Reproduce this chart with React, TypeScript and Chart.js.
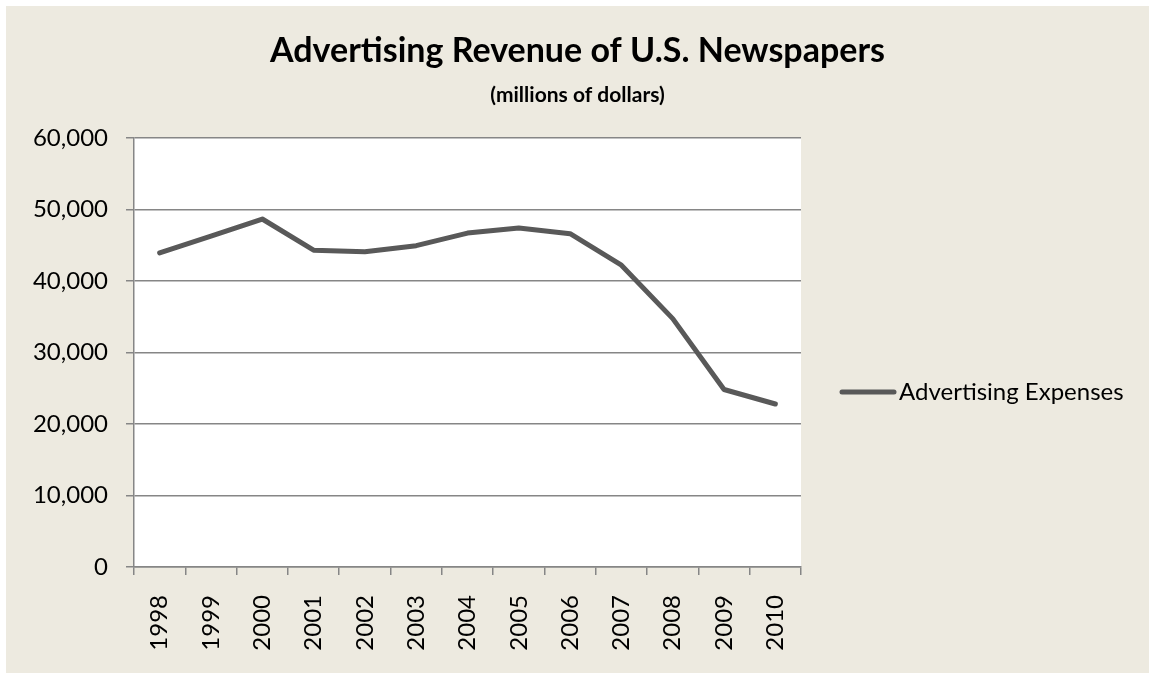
import React, { useEffect, useRef } from "react";
import { Chart, registerables } from "chart.js";

Chart.register(...registerables);

const years = ["1998", "1999", "2000", "2001", "2002", "2003", "2004", "2005", "2006", "2007", "2008", "2009", "2010"];
const adRevenue = [43925, 46289, 48670, 44305, 44102, 44939, 46703, 47408, 46611, 42209, 34740, 24821, 22795];
const seriesLabel = "Advertising Expenses";
const titleText = "Advertising Revenue of U.S. Newspapers";
const subtitleText = "(millions of dollars)";

const FONT = "Lato, 'Open Sans', sans-serif";
const BG = "#EDEAE0";
const LINE = "#595959";
const GRID = "#868686";

const bgPlugin = {
  id: "bgPlugin",
  beforeDraw(chart: any) {
    const { ctx, width, height, chartArea } = chart;
    ctx.save();
    ctx.fillStyle = BG;
    ctx.fillRect(0, 0, width, height);
    ctx.fillStyle = "#FFFFFF";
    ctx.fillRect(chartArea.left, chartArea.top, chartArea.right - chartArea.left, chartArea.bottom - chartArea.top);
    ctx.restore();
  },
};

const legendPlugin = {
  id: "sideLegend",
  afterDraw(chart: any) {
    const { ctx } = chart;
    const ds = chart.data.datasets[0];
    const y = 386;
    ctx.save();
    ctx.strokeStyle = ds.borderColor;
    ctx.lineWidth = 5;
    ctx.lineCap = "round";
    ctx.beginPath();
    ctx.moveTo(836, y);
    ctx.lineTo(888, y);
    ctx.stroke();
    ctx.fillStyle = "#000000";
    ctx.font = `24px ${FONT}`;
    ctx.textAlign = "left";
    ctx.textBaseline = "middle";
    ctx.fillText(ds.label, 893, y);
    ctx.restore();
  },
};

export default function App() {
  const ref = useRef<HTMLCanvasElement>(null);
  useEffect(() => {
    document.body.style.margin = "0";
    const chart = new Chart(ref.current!, {
      type: "line",
      data: {
        labels: years,
        datasets: [
          {
            label: seriesLabel,
            data: adRevenue,
            borderColor: LINE,
            backgroundColor: LINE,
            borderWidth: 5,
            pointRadius: 0,
            tension: 0,
            borderCapStyle: "round",
            borderJoinStyle: "round",
            yAxisID: "y",
          },
        ],
      },
      plugins: [bgPlugin, legendPlugin],
      options: {
        animation: false,
        responsive: true,
        maintainAspectRatio: false,
        layout: { padding: 0 },
        plugins: {
          legend: { display: false },
          tooltip: { enabled: false },
          title: {
            display: true,
            text: titleText,
            color: "#000",
            font: { family: FONT, size: 34, weight: "bold" },
            padding: { top: 25, bottom: 0 },
          },
          subtitle: {
            display: true,
            text: subtitleText,
            color: "#000",
            font: { family: FONT, size: 21, weight: "bold" },
            padding: { top: 11, bottom: 30 },
          },
        },
        scales: {
          x: {
            type: "category",
            offset: true,
            grid: { display: true, offset: true, drawOnChartArea: false, color: GRID, lineWidth: 1.5, tickLength: 8 },
            border: { display: true, color: GRID, width: 1.5 },
            ticks: {
              color: "#000",
              font: { family: FONT, size: 24 },
              minRotation: 90,
              maxRotation: 90,
              padding: 20,
              autoSkip: false,
            },
            afterFit(scale: any) {
              scale.height = 106;
            },
          },
          y: {
            position: "left",
            min: 0,
            max: 60000,
            grid: { color: GRID, lineWidth: 1.5, tickLength: 8 },
            border: { display: true, color: GRID, width: 1.5 },
            ticks: {
              stepSize: 10000,
              color: "#000",
              font: { family: FONT, size: 24 },
              padding: 18,
              callback: (v: any) => Number(v).toLocaleString("en-US"),
            },
            afterFit(scale: any) {
              scale.width = 128;
            },
          },
          spacer: {
            type: "linear",
            position: "right",
            display: true,
            grid: { display: false, drawTicks: false },
            border: { display: false },
            ticks: { display: false },
            afterFit(scale: any) {
              scale.width = 348;
            },
          },
        },
      },
    });
    return () => chart.destroy();
  }, []);
  return (
    <div style={{ position: "fixed", left: 6, top: 6, width: 1143, height: 667 }}>
      <canvas ref={ref} />
    </div>
  );
}
